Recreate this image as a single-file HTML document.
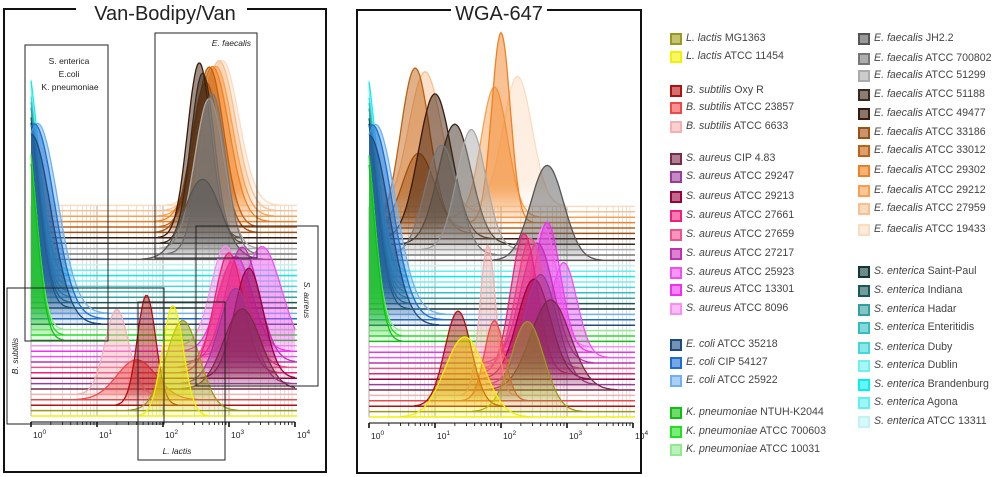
<!DOCTYPE html>
<html><head><meta charset="utf-8">
<style>
body{margin:0;width:1000px;height:477px;background:#fff;overflow:hidden;font-family:"Liberation Sans",sans-serif;}
#wrap{position:relative;width:1000px;height:477px;}
svg{position:absolute;left:0;top:0;}
.leg{position:absolute;font-family:"Liberation Sans",sans-serif;font-size:10.6px;color:#444;white-space:nowrap;line-height:14px;}
.leg i{font-style:italic;}
.sw{position:absolute;width:8px;height:8px;border:2px solid;left:-16px;top:2px;}
</style></head><body>
<div id="wrap">
<svg id="chart" width="1000" height="477"></svg>
<div id="legend"></div>
</div>
<script>
// strains in stacking order (bottom first)
const strainNames=["L. lactis|ATCC 11454","L. lactis|MG1363","B. subtilis|Oxy R","B. subtilis|ATCC 23857","B. subtilis|ATCC 6633",
"S. aureus|CIP 4.83","S. aureus|ATCC 29247","S. aureus|ATCC 29213","S. aureus|ATCC 27661","S. aureus|ATCC 27659","S. aureus|ATCC 27217","S. aureus|ATCC 25923","S. aureus|ATCC 13301","S. aureus|ATCC 8096",
"K. pneumoniae|NTUH-K2044","K. pneumoniae|ATCC 700603","K. pneumoniae|ATCC 10031",
"E. coli|ATCC 35218","E. coli|CIP 54127","E. coli|ATCC 25922",
"S. enterica|Saint-Paul","S. enterica|Indiana","S. enterica|Hadar","S. enterica|Enteritidis","S. enterica|Duby","S. enterica|Dublin","S. enterica|Brandenburg","S. enterica|Agona","S. enterica|ATCC 13311",
"E. faecalis|JH2.2","E. faecalis|ATCC 700802","E. faecalis|ATCC 51299","E. faecalis|ATCC 51188","E. faecalis|ATCC 49477","E. faecalis|ATCC 33186","E. faecalis|ATCC 33012","E. faecalis|ATCC 29302","E. faecalis|ATCC 29212","E. faecalis|ATCC 27959","E. faecalis|ATCC 19433"];
const strainColors=["#f2f000","#9a9a18","#b01010","#f04848","#f4b0b0",
"#7a2a4a","#9a3a9a","#9a0040","#f0207a","#f05090","#c030b0","#f050f0","#f030f0","#f890f0",
"#10c010","#20e020","#90e890",
"#1a4a80","#1a70d0","#70b0f0",
"#103838","#185858","#30a0a0","#30c0c0","#40d8d8","#70f0f0","#00f0f0","#60f0f0","#c0f4f4",
"#555555","#777777","#aaaaaa","#3a2a1a","#3a1a0a","#a05010","#c06010","#f08020","#f8a050","#f8c090","#fcdcc0"];
// Van-Bodipy panel: peak (log10), height (px), width (log10)
const vanPeak=[2.15,2.3,1.75,1.6,1.3, 3.2,3.1,3.3,3.0,3.05,3.2,3.5,3.1,2.95, -0.1,-0.1,-0.1, 0.0,0.05,0.1, -0.1,-0.1,-0.1,-0.1,-0.1,-0.1,-0.1,-0.1,-0.1, 2.6,2.75,2.7,2.6,2.55,2.65,2.7,2.75,2.8,2.85,2.9];
const vanHeight=[110,90,110,40,85, 80,95,110,120,105,115,110,95,100, 210,215,205, 190,195,190, 210,210,215,215,215,218,220,215,210, 80,160,150,170,175,150,160,155,150,150,145];
const vanWidth=[0.16,0.25,0.14,0.3,0.18, 0.28,0.25,0.22,0.22,0.25,0.25,0.3,0.25,0.22, 0.17,0.17,0.17, 0.3,0.3,0.3, 0.2,0.2,0.2,0.2,0.2,0.2,0.2,0.2,0.2, 0.28,0.2,0.22,0.18,0.18,0.22,0.22,0.25,0.25,0.25,0.25];
// WGA-647 panel
const wgaPeak=[1.45,2.4,1.35,1.9,1.8, 2.75,2.6,2.5,2.35,2.45,2.55,2.95,2.7,2.65, -0.1,-0.1,-0.1, 0.0,0.05,0.1, -0.1,-0.1,-0.1,-0.1,-0.1,-0.1,-0.1,-0.1,-0.1, 2.7,1.1,1.55,1.3,1.0,0.75,0.7,2.0,1.9,0.85,2.25];
const wgaHeight=[80,90,95,80,150, 90,110,100,140,130,120,95,130,120, 210,215,205, 190,195,190, 210,210,215,215,215,218,220,215,210, 95,110,120,120,145,80,160,190,130,140,130];
const wgaWidth=[0.3,0.25,0.2,0.15,0.12, 0.3,0.25,0.25,0.2,0.22,0.25,0.2,0.2,0.2, 0.17,0.17,0.17, 0.3,0.3,0.3, 0.2,0.2,0.2,0.2,0.2,0.2,0.2,0.2,0.2, 0.25,0.25,0.22,0.25,0.25,0.25,0.22,0.14,0.2,0.25,0.22];
const tickLabels=["0","1","2","3","4"];

const NS="http://www.w3.org/2000/svg";
const svg=document.getElementById('chart');
function mk(tag,attrs,parent){const e=document.createElementNS(NS,tag);for(const k in attrs)e.setAttribute(k,attrs[k]);(parent||svg).appendChild(e);return e;}
const defs=mk('defs',{});
strainColors.forEach((c,i)=>{
  const g=mk('linearGradient',{id:'g'+i,x1:0,y1:0,x2:0,y2:1},defs);
  mk('stop',{offset:'0','stop-color':c,'stop-opacity':0.5},g);
  mk('stop',{offset:'0.8','stop-color':c,'stop-opacity':0.45},g);
  mk('stop',{offset:'1','stop-color':c,'stop-opacity':0.08},g);
});

function panel(name,x0,dw,base,step,peaks,heights,widths){
  const gp=mk('g',{});
  
  
  const xs=l=>x0+l*dw;
  const yb=i=>base-i*step;
  const topY=yb(strainNames.length-1);
  for(let d=0;d<4;d++)for(let m=1;m<10;m++){
    const x=xs(d+Math.log10(m));
    const vl=mk('line',{x1:x,x2:x,y1:topY,y2:base,stroke:'#888','stroke-width':m==1?1:0.6,'stroke-opacity':m==1?0.7:0.45},gp);
    
    
  }
  for(let i=strainNames.length-1;i>=0;i--){
    const b=yb(i);
    const bl=mk('line',{x1:x0,x2:xs(4)+2,y1:b,y2:b,stroke:strainColors[i],'stroke-width':1.5},gp);
    
    
    let pts=[];
    for(let l=0;l<=4.0001;l+=0.02){
      const v=heights[i]*Math.exp(-0.5*Math.pow((l-peaks[i])/widths[i],2));
      if(v<0.3)continue;
      pts.push([xs(l),b-v]);
    }
    if(!pts.length)continue;
    const d='M'+pts[0][0].toFixed(1)+','+b+' '+pts.map(p=>'L'+p[0].toFixed(1)+','+p[1].toFixed(1)).join(' ')+' L'+pts[pts.length-1][0].toFixed(1)+','+b+'Z';
    const f=mk('path',{d:d,fill:'url(#g'+i+')',stroke:'none'},gp);
    
    
    const ld='M'+pts.map(p=>p[0].toFixed(1)+','+p[1].toFixed(1)).join(' L');
    const ln=mk('path',{d:ld,fill:'none',stroke:strainColors[i],'stroke-width':1.3},gp);
    
    
  }
  const ay=base+6;
  const ax=mk('line',{x1:x0,x2:xs(4),y1:ay,y2:ay,stroke:'#000','stroke-width':1},gp);
  
  
  for(let d=0;d<4;d++)for(let m=1;m<10;m++){
    const x=xs(d+Math.log10(m));
    mk('line',{x1:x,x2:x,y1:ay,y2:ay+(m==1?5:3),stroke:'#000','stroke-width':m==1?1.5:0.8},gp);
  }
  mk('line',{x1:xs(4),x2:xs(4),y1:ay,y2:ay+5,stroke:'#000','stroke-width':1.5},gp);
  tickLabels.forEach((t,k)=>{
    const tx=mk('text',{x:xs(+t)+2,y:ay+16,'font-size':8.5,fill:'#222','font-family':'Liberation Sans'},gp);
    
    
    tx.textContent='10';
    const s=mk('tspan',{dy:-4,'font-size':6.5},tx);s.textContent=t;
  });
}
panel('van-bodipy-plot',31,66,416,5.4,vanPeak,vanHeight,vanWidth);
panel('wga-647-plot',369,66,417,5.4,wgaPeak,wgaHeight,wgaWidth);

function rect(x,y,w,h,name,sw){const r=mk('rect',{x:x,y:y,width:w,height:h,fill:'none',stroke:'#222','stroke-width':sw||1});return r;}
function txt(x,y,s,t,name,extra){const e=mk('text',Object.assign({x:x,y:y,'font-size':s,'font-family':'Liberation Sans',fill:'#222'},extra||{}));e.textContent=t;return e;}
mk('path',{d:'M76,9 L4,9 L4,472 L326,472 L326,9 L247,9',fill:'none',stroke:'#111','stroke-width':2});
txt(165,20,20,'Van-Bodipy/Van','left-panel-title',{'text-anchor':'middle'});
mk('path',{d:'M451,10 L357,10 L357,473 L641,473 L641,10 L547,10',fill:'none',stroke:'#111','stroke-width':2});
txt(499,20,20,'WGA-647','right-panel-title',{'text-anchor':'middle'});
rect(25,45,83,296,'gram-negative-box');
txt(69,64,8.5,'S. enterica','box-label',{'text-anchor':'middle'});
txt(69,77,8.5,'E.coli','box-label',{'text-anchor':'middle'});
txt(70,90,8.5,'K. pneumoniae','box-label',{'text-anchor':'middle'});
rect(155,33,102,225,'e-faecalis-box');
txt(251,46,8.5,'E. faecalis','box-label',{'text-anchor':'end','font-style':'italic'});
rect(196,226,122,160,'s-aureus-box');
txt(304,300,8.5,'S. aureus','box-label',{'text-anchor':'middle','font-style':'italic',transform:'rotate(90 304 300)'});
rect(7,288,157,136,'b-subtilis-box');
txt(18,356,8.5,'B. subtilis','box-label',{'text-anchor':'middle','font-style':'italic',transform:'rotate(-90 18 356)'});
rect(138,302,87,158,'l-lactis-box');
txt(177,454,8.5,'L. lactis','box-label',{'text-anchor':'middle','font-style':'italic'});

const legendOrder=[1,0,2,3,4,5,6,7,8,9,10,11,12,13,17,18,19,14,15,16];
const legendLeftY=[38,56,90,107,126,158,176,196,215,234,253,272,289,308,344,362,380,412,431,449];
const legendRightOrder=[29,30,31,32,33,34,35,36,37,38,39,20,21,22,23,24,25,26,27,28];
const legendRightY=[38,58,75,94,113,132,150,170,190,208,229,271,290,309,327,347,365,384,402,421];
const leg=document.getElementById('legend');
function addLeg(idx,x,y){
  const [sp,st]=strainNames[idx].split('|');
  const d=document.createElement('div');d.className='leg';d.style.left=x+'px';d.style.top=(y-7)+'px';
  
  
  d.innerHTML='<span class="sw" style="background:'+strainColors[idx]+'99;border-color:'+strainColors[idx]+'"></span><i>'+sp+'</i> '+st;
  leg.appendChild(d);
}
legendOrder.forEach((s,k)=>addLeg(s,686,legendLeftY[k]));
legendRightOrder.forEach((s,k)=>addLeg(s,874,legendRightY[k]));
</script>
</body></html>
